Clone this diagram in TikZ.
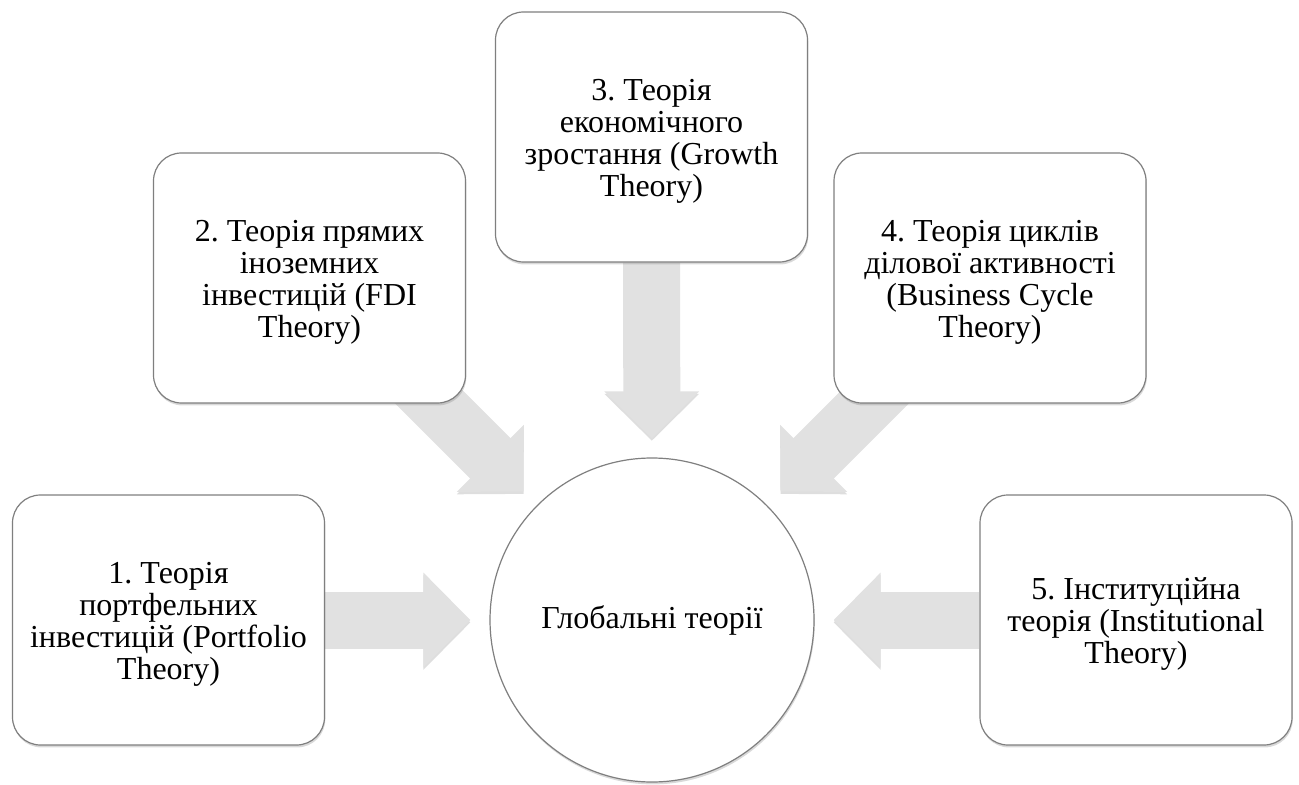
\documentclass[tikz,border=0pt]{standalone}
\usepackage{fontspec}
\setmainfont[Script=Cyrillic]{Liberation Serif}
\usetikzlibrary{arrows.meta,shadows,calc}
\pgfdeclarelayer{bg}
\pgfsetlayers{bg,main}
\definecolor{arrowgray}{HTML}{E1E1E1}
\definecolor{bordergray}{HTML}{7F7F7F}
\newcommand{\firstline}{\rule{0pt}{15pt}}
\begin{document}
\frenchspacing
\begin{tikzpicture}[x=0.5pt,y=-0.5pt,
  txt/.style={font=\fontsize{16}{16.1}\selectfont},
  box/.style={txt, draw=bordergray, line width=0.6pt, fill=white, rounded corners=14pt,
    minimum width=156pt, minimum height=125pt, align=center, inner sep=0pt,
    drop shadow={shadow xshift=0.4pt, shadow yshift=-1.2pt, opacity=0.3}},
  hub/.style={txt, circle, draw=bordergray, line width=0.6pt, fill=white,
    minimum size=162pt, inner sep=0pt,
    drop shadow={shadow xshift=0.4pt, shadow yshift=-1.2pt, opacity=0.3}},
  flow/.style={draw=arrowgray, line width=28.5pt, -{Triangle[width=46pt,length=23.5pt]},
    shorten >=9.5pt,
    preaction={draw=black!13, transform canvas={yshift=-1.2pt}}}
]
\useasboundingbox (0,0) rectangle (1299,785);

\node[hub] (c) at (652,620) {Глобальні теорії};
\node[box] (b1) at (168.5,620) {\firstline 1. Теорія\\портфельних\\інвестицій (Portfolio\\Theory)};
\node[box] (b2) at (309.5,278) {\firstline 2. Теорія прямих\\іноземних\\інвестицій (FDI\\Theory)};
\node[box] (b3) at (651.5,137) {\firstline 3. Теорія\\економічного\\зростання (Growth\\Theory)};
\node[box] (b4) at (990,278) {\firstline 4. Теорія циклів\\ділової активності\\(Business Cycle\\Theory)};
\node[box] (b5) at (1136,620) {\firstline 5. Інституційна\\теорія (Institutional\\Theory)};

\coordinate (s2) at ($(c)+(-250,-250)$);
\coordinate (s4) at ($(c)+(250,-250)$);

\begin{pgfonlayer}{bg}
\draw[flow] (b1) -- (c);
\draw[flow] (s2) -- (c);
\draw[flow] (b3) -- (c);
\draw[flow] (s4) -- (c);
\draw[flow] (b5) -- (c);
\end{pgfonlayer}
\end{tikzpicture}
\end{document}
